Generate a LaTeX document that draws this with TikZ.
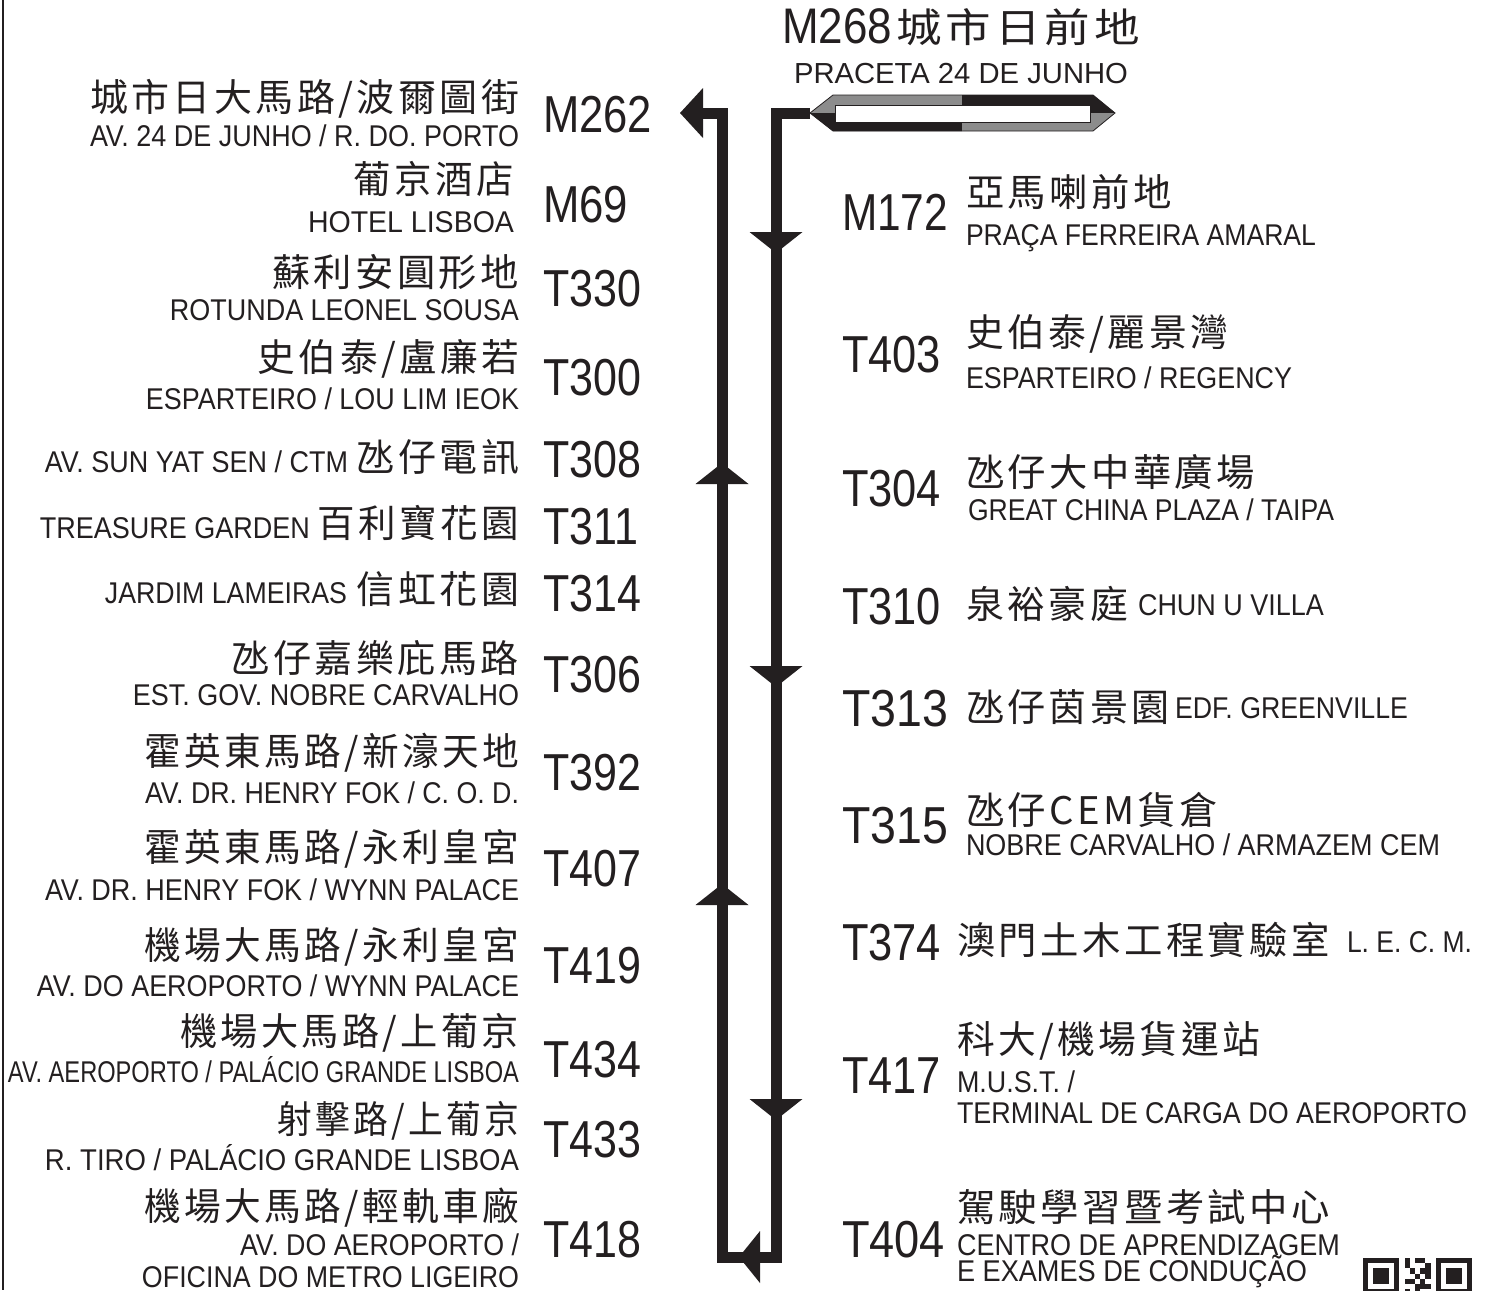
\documentclass[tikz,border=0pt]{standalone}
\usepackage{graphicx}
\usepackage{fontspec}
\setmainfont{Liberation Sans}
\newfontfamily\cjk[LetterSpace=9]{Noto Sans CJK TC}
\definecolor{ink}{RGB}{35,31,32}
\definecolor{rim}{RGB}{140,140,140}
\newcommand\squeeze[2]{\resizebox{#1pt}{\height}{#2}}

\begin{document}
\begin{tikzpicture}[x=1pt, y=-1pt]

\tikzset{
  lbl/.style={inner sep=0pt, outer sep=0pt, text=ink},
  lat/.style={lbl, font=\fontsize{30}{30}\selectfont},
  code/.style={lbl, font=\fontsize{52}{52}\selectfont},
  zh/.style={lbl, font=\cjk\fontsize{38}{38}\selectfont},
  route/.style={draw=ink, line width=11pt, line join=miter, line cap=butt},
  dnhead/.pic={\fill[ink] (-26.5,0) -- (26.5,0) -- (0,21) -- cycle;},
  uphead/.pic={\fill[ink] (-26.5,0) -- (26.5,0) -- (0,-21) -- cycle;},
  lfhead/.pic={\fill[ink] (0,-26) -- (0,26) -- (-21,0) -- cycle;},
}
\useasboundingbox (0,0) rectangle (1493,1290);
\draw[ink, line width=1.2pt] (3,0) -- (3,1290);

% terminus
\coordinate (term) at (810,113);
\begin{scope}
\clip (810,113) -- (833,95) -- (1093,95) -- (1115,113) -- (1093,131) -- (833,131) -- cycle;
\fill[rim] (800,90) rectangle (1120,140);
\fill[ink] (800,113) rectangle (962,140);
\fill[ink] (962,90) rectangle (1120,113);
\end{scope}
\draw[ink, line width=0.8pt] (810,113) -- (833,95) -- (1093,95) -- (1115,113) -- (1093,131) -- (833,131) -- cycle;
\draw[ink, line width=0.6pt, fill=white] (835,105) rectangle (1090,122);

% route
\coordinate (rtop) at (776,113);
\coordinate (rbot) at (776,1257);
\coordinate (lbot) at (722,1257);
\coordinate (ltop) at (722,113);
\coordinate (lend) at (703,113);
\draw[route] (term) -- (rtop) -- (rbot) -- (lbot) -- (ltop) -- (lend);
\fill[ink] (680,113) -- (703,88) -- (703,138) -- cycle;
\pic at (776,232) {dnhead};
\pic at (776,666) {dnhead};
\pic at (776,1099) {dnhead};
\pic at (722,484) {uphead};
\pic at (722,905) {uphead};
\pic at (760,1257) {lfhead};

% top
\node[code, font=\fontsize{50}{50}\selectfont, anchor=base west] (m268) at (782,44) {\squeeze{110}{M268}};
\node[zh, font=\cjk\fontsize{40}{40}\selectfont, anchor=south west] (zh268) at (896,46) {\squeeze{244}{城市日前地}};
\node[lat, font=\fontsize{29}{29}\selectfont, anchor=base west] (pt268) at (794,83) {\squeeze{334}{PRACETA 24 DE JUNHO}};

% left side
\node[zh, anchor=south east] (zh262) at (519,118) {\squeeze{429}{城市日大馬路/波爾圖街}};
\node[lat, anchor=base east] (pt262) at (519,146) {\squeeze{429}{AV. 24 DE JUNHO / R. DO. PORTO}};
\node[code, anchor=base west] (m262) at (543,132) {\squeeze{109}{M262}};

\node[zh, anchor=south east] (zh69) at (514,197) {\squeeze{160}{葡京酒店}};
\node[lat, anchor=base east] (pt69) at (514,232) {\squeeze{206}{HOTEL LISBOA}};
\node[code, anchor=base west] (m69) at (543,222) {\squeeze{85}{M69}};

\node[zh, anchor=south east] (zh330) at (519,290) {\squeeze{247}{蘇利安圓形地}};
\node[lat, anchor=base east] (pt330) at (519,320) {\squeeze{349}{ROTUNDA LEONEL SOUSA}};
\node[code, anchor=base west] (t330) at (543,306) {\squeeze{98}{T330}};

\node[zh, anchor=south east] (zh300) at (519,378) {\squeeze{261}{史伯泰/盧廉若}};
\node[lat, anchor=base east] (pt300) at (519,409) {\squeeze{373}{ESPARTEIRO / LOU LIM IEOK}};
\node[code, anchor=base west] (t300) at (543,395) {\squeeze{98}{T300}};

\node[zh, anchor=south east] (zh308) at (519,475) {\squeeze{162}{氹仔電訊}};
\node[lat, anchor=base east] (pt308) at (348,472) {\squeeze{303}{AV. SUN YAT SEN / CTM}};
\node[code, anchor=base west] (t308) at (543,477) {\squeeze{98}{T308}};

\node[zh, anchor=south east] (zh311) at (519,541) {\squeeze{201}{百利寶花園}};
\node[lat, anchor=base east] (pt311) at (310,538) {\squeeze{270}{TREASURE GARDEN}};
\node[code, anchor=base west] (t311) at (543,544) {\squeeze{95}{T311}};

\node[zh, anchor=south east] (zh314) at (519,607) {\squeeze{162}{信虹花園}};
\node[lat, anchor=base east] (pt314) at (347,603) {\squeeze{242}{JARDIM LAMEIRAS}};
\node[code, anchor=base west] (t314) at (543,611) {\squeeze{98}{T314}};

\node[zh, anchor=south east] (zh306) at (519,676) {\squeeze{287}{氹仔嘉樂庇馬路}};
\node[lat, anchor=base east] (pt306) at (519,705) {\squeeze{386}{EST. GOV. NOBRE CARVALHO}};
\node[code, anchor=base west] (t306) at (543,692) {\squeeze{98}{T306}};

\node[zh, anchor=south east] (zh392) at (519,772) {\squeeze{374}{霍英東馬路/新濠天地}};
\node[lat, anchor=base east] (pt392) at (519,803) {\squeeze{374}{AV. DR. HENRY FOK / C. O. D.}};
\node[code, anchor=base west] (t392) at (543,790) {\squeeze{98}{T392}};

\node[zh, anchor=south east] (zh407) at (519,868) {\squeeze{374}{霍英東馬路/永利皇宮}};
\node[lat, anchor=base east] (pt407) at (519,900) {\squeeze{474}{AV. DR. HENRY FOK / WYNN PALACE}};
\node[code, anchor=base west] (t407) at (543,886) {\squeeze{98}{T407}};

\node[zh, anchor=south east] (zh419) at (519,966) {\squeeze{374}{機場大馬路/永利皇宮}};
\node[lat, anchor=base east] (pt419) at (519,996) {\squeeze{482}{AV. DO AEROPORTO / WYNN PALACE}};
\node[code, anchor=base west] (t419) at (543,983) {\squeeze{98}{T419}};

\node[zh, anchor=south east] (zh434) at (519,1052) {\squeeze{339}{機場大馬路/上葡京}};
\node[lat, anchor=base east] (pt434) at (519,1082) {\squeeze{511}{AV. AEROPORTO / PALÁCIO GRANDE LISBOA}};
\node[code, anchor=base west] (t434) at (543,1077) {\squeeze{98}{T434}};

\node[zh, anchor=south east] (zh433) at (519,1140) {\squeeze{241}{射擊路/上葡京}};
\node[lat, anchor=base east] (pt433) at (519,1170) {\squeeze{474}{R. TIRO / PALÁCIO GRANDE LISBOA}};
\node[code, anchor=base west] (t433) at (543,1157) {\squeeze{98}{T433}};

\node[zh, anchor=south east] (zh418) at (519,1227) {\squeeze{374}{機場大馬路/輕軌車廠}};
\node[lat, anchor=base east] (pt418) at (519,1255) {\squeeze{279}{AV. DO AEROPORTO /}};
\node[lat, anchor=base east] (pt418b) at (519,1287) {\squeeze{377}{OFICINA DO METRO LIGEIRO}};
\node[code, anchor=base west] (t418) at (543,1257) {\squeeze{98}{T418}};

% right side
\node[code, anchor=base west] (m172) at (842,230) {\squeeze{106}{M172}};
\node[zh, anchor=south west] (zh172) at (966,210) {\squeeze{206}{亞馬喇前地}};
\node[lat, anchor=base west] (pt172) at (966,245) {\squeeze{350}{PRAÇA FERREIRA AMARAL}};

\node[code, anchor=base west] (t403) at (842,372) {\squeeze{99}{T403}};
\node[zh, anchor=south west] (zh403) at (966,353) {\squeeze{262}{史伯泰/麗景灣}};
\node[lat, anchor=base west] (pt403) at (966,388) {\squeeze{326}{ESPARTEIRO / REGENCY}};

\node[code, anchor=base west] (t304) at (842,506) {\squeeze{99}{T304}};
\node[zh, anchor=south west] (zh304) at (966,490) {\squeeze{289}{氹仔大中華廣場}};
\node[lat, anchor=base west] (pt304) at (968,520) {\squeeze{366}{GREAT CHINA PLAZA / TAIPA}};

\node[code, anchor=base west] (t310) at (842,624) {\squeeze{99}{T310}};
\node[zh, anchor=south west] (zh310) at (966,622) {\squeeze{162}{泉裕豪庭}};
\node[lat, anchor=base west] (pt310) at (1138,615) {\squeeze{186}{CHUN U VILLA}};

\node[code, anchor=base west] (t313) at (842,726) {\squeeze{106}{T313}};
\node[zh, anchor=south west] (zh313) at (966,725) {\squeeze{204}{氹仔茵景園}};
\node[lat, anchor=base west] (pt313) at (1175,718) {\squeeze{233}{EDF. GREENVILLE}};

\node[code, anchor=base west] (t315) at (842,843) {\squeeze{106}{T315}};
\node[zh, anchor=south west] (zh315) at (966,828) {\squeeze{252}{氹仔CEM貨倉}};
\node[lat, anchor=base west] (pt315) at (966,855) {\squeeze{474}{NOBRE CARVALHO / ARMAZEM CEM}};

\node[code, anchor=base west] (t374) at (842,960) {\squeeze{99}{T374}};
\node[zh, anchor=south west] (zh374) at (957,958) {\squeeze{373}{澳門土木工程實驗室}};
\node[lat, anchor=base west] (pt374) at (1347,952) {\squeeze{125}{L. E. C. M.}};

\node[code, anchor=base west] (t417) at (842,1093) {\squeeze{99}{T417}};
\node[zh, anchor=south west] (zh417) at (957,1060) {\squeeze{303}{科大/機場貨運站}};
\node[lat, anchor=base west] (pt417) at (957,1092) {\squeeze{118}{M.U.S.T. /}};
\node[lat, anchor=base west] (pt417b) at (957,1123) {\squeeze{510}{TERMINAL DE CARGA DO AEROPORTO}};

\node[code, anchor=base west] (t404) at (842,1257) {\squeeze{103}{T404}};
\node[zh, anchor=south west] (zh404) at (957,1225) {\squeeze{373}{駕駛學習暨考試中心}};
\node[lat, anchor=base west] (pt404) at (957,1255) {\squeeze{383}{CENTRO DE APRENDIZAGEM}};
\node[lat, anchor=base west] (pt404b) at (957,1281) {\squeeze{350}{E EXAMES DE CONDUÇÃO}};

% qr code, cut off at the page edge
\begin{scope}[shift={(1363,1258)}]
\foreach \qx in {0,72.8} {
  \fill[ink] (\qx,0) rectangle +(36.4,36.4);
  \fill[white] (\qx+5.2,5.2) rectangle +(26,26);
  \fill[ink] (\qx+10.4,10.4) rectangle +(15.6,15.6);
}
\foreach \mc/\mr in {8/0,10/0,11/0,8/1,12/1,9/2,11/2,12/2,10/3,12/3,8/4,9/4,11/4,10/5,11/5,12/5,8/6,10/6}
  \fill[ink] (\mc*5.2,\mr*5.2) rectangle +(5.2,5.2);
\end{scope}

\end{tikzpicture}
\end{document}
